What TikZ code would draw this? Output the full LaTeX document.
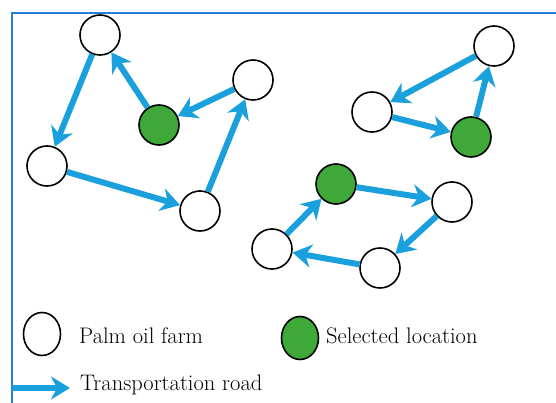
\documentclass[tikz,border=0pt]{standalone}
\usepackage{fontspec}
\usetikzlibrary{arrows.meta,shapes.geometric}
\definecolor{roadcol}{RGB}{27,160,222}
\definecolor{selcol}{RGB}{62,168,56}
\definecolor{framecol}{RGB}{40,125,215}
\begin{document}
\begin{tikzpicture}[x=1pt,y=-1pt,
 farm/.style={circle,draw=black,line width=1.6pt,fill=white,minimum size=40pt,inner sep=0pt},
 selloc/.style={farm,fill=selcol},
 legfarm/.style={ellipse,draw=black,line width=1.6pt,fill=white,minimum width=37pt,minimum height=43pt,inner sep=0pt},
 road/.style={draw=roadcol,line width=6pt,-{Stealth[length=19pt,width=23pt,inset=6pt]}},
 lbl/.style={anchor=base west,font=\fontsize{22.5}{27}\selectfont,inner sep=0pt}]
\useasboundingbox (0,0) rectangle (556,403);
% frame
\coordinate (ftl) at (12,13);
\coordinate (ftr) at (556,13);
\coordinate (fbl) at (12,403);
\draw[framecol,line width=1.8pt] (ftr) -- (ftl) -- (fbl);
% left group
\node[farm] (a) at (100,35) {};
\node[selloc] (g1) at (159,125) {};
\node[farm] (b) at (253,80) {};
\node[farm] (c) at (47,166) {};
\node[farm] (d) at (200,211) {};
\draw[road] (g1) -- (a);
\draw[road] (a) -- (c);
\draw[road] (c) -- (d);
\draw[road] (d) -- (b);
\draw[road] (b) -- (g1);
% right group
\node[farm] (e) at (494,46) {};
\node[farm] (f) at (372,112) {};
\node[selloc] (g2) at (471,137) {};
\draw[road] (e) -- (f);
\draw[road] (f) -- (g2);
\draw[road] (g2) -- (e);
% bottom group
\node[selloc] (g3) at (336,184) {};
\node[farm] (h) at (452,202) {};
\node[farm] (i) at (380,268) {};
\node[farm] (j) at (272,249) {};
\draw[road] (g3) -- (h);
\draw[road] (h) -- (i);
\draw[road] (i) -- (j);
\draw[road] (j) -- (g3);
% legend
\node[legfarm] (lf) at (42,334) {};
\node[lbl] (lft) at (79,343) {Palm oil farm};
\node[legfarm,fill=selcol] (ls) at (300,338) {};
\node[lbl] (lst) at (326,343) {Selected location};
\coordinate (las) at (12,388);
\coordinate (lae) at (70,388);
\draw[road] (las) -- (lae);
\node[lbl] (lat) at (80,390) {Transportation road};
\end{tikzpicture}
\end{document}
